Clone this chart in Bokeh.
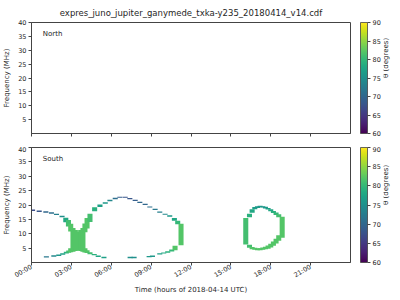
import numpy as np
from bokeh.plotting import figure
from bokeh.models import (LinearColorMapper, ColorBar, FixedTicker, Label,
                          ColumnDataSource, Range1d, LinearAxis)
from bokeh.palettes import Viridis256
from bokeh.layouts import column
from bokeh.embed import file_html
from bokeh.resources import INLINE

TITLE = "expres_juno_jupiter_ganymede_txka-y235_20180414_v14.cdf"
X_LABEL = "Time (hours of 2018-04-14 UTC)"
Y_LABEL = "Frequency (MHz)"
CB_LABEL = "θ (degrees)"

hour_ticks = [0, 3, 6, 9, 12, 15, 18, 21]
hour_labels = ["00:00", "03:00", "06:00", "09:00", "12:00", "15:00", "18:00", "21:00"]
freq_ticks = [5, 10, 15, 20, 25, 30, 35, 40]
theta_ticks = [60, 65, 70, 75, 80, 85, 90]

# South hemisphere emission cells (time in hours, frequency band in MHz, theta in degrees)
ub_t = [0.08, 0.58, 1.08, 1.50, 1.88, 2.30, 2.58, 2.78, 2.95, 3.12, 3.30, 3.50, 3.70, 3.87,
        4.02, 4.18, 4.40, 4.75, 5.15, 5.55, 5.90, 6.30, 6.65, 7.05, 7.40, 7.80, 8.15, 8.55,
        8.90, 9.30, 9.65, 10.05, 10.40, 10.75, 11.00, 11.25]
ub_lo = [17.9, 17.6, 17.3, 17.0, 16.5, 15.7, 14.0, 12.5, 10.8, 3.7, 4.0, 4.3, 4.0, 3.7,
         10.5, 11.8, 14.1, 17.8, 19.3, 20.4, 21.3, 22.0, 22.5, 22.5, 22.0, 21.4, 20.7, 20.0,
         19.1, 18.3, 17.3, 16.6, 15.9, 14.5, 13.3, 6.0]
ub_hi = [18.4, 18.1, 17.8, 17.5, 17.0, 16.3, 15.6, 14.8, 13.5, 12.0, 11.3, 10.7, 11.3, 12.0,
         13.6, 15.5, 17.0, 19.2, 20.2, 21.0, 21.8, 22.5, 22.9, 22.9, 22.4, 21.8, 21.1, 20.4,
         19.5, 18.7, 17.7, 17.0, 16.4, 15.5, 14.5, 13.5]
ub_theta = [67, 68, 70, 71, 73, 75, 78, 81, 82, 82, 82, 82, 82, 82,
            82, 82, 81, 79, 77, 76, 74, 71, 69, 68, 68, 69, 70, 70,
            71, 72, 73, 74, 76, 78, 80, 82]

lb_t = [1.12, 1.68, 2.05, 2.35, 2.62, 2.80, 2.95, 4.02, 4.18, 4.40, 4.72, 5.02, 5.45,
        7.42, 7.72, 8.85, 9.10, 9.65, 9.95, 10.25, 10.55, 10.80]
lb_lo = [1.7, 2.0, 2.3, 2.7, 3.1, 3.4, 3.6, 3.5, 3.3, 2.9, 2.5, 1.9, 1.5,
         1.5, 1.5, 1.8, 1.9, 2.8, 3.1, 3.4, 3.8, 4.3]
lb_hi = [2.2, 2.5, 2.8, 3.2, 3.7, 4.2, 5.0, 5.0, 4.3, 3.6, 3.0, 2.4, 2.0,
         2.0, 2.0, 2.3, 2.4, 3.2, 3.5, 3.9, 4.5, 5.8]
lb_theta = [72, 74, 76, 77, 79, 81, 82, 82, 82, 81, 79, 78, 77,
            75, 75, 76, 76, 77, 78, 79, 80, 82]

ov_arc_t = [16.40, 16.60, 16.80, 17.00, 17.20, 17.40, 17.60, 17.80, 18.00, 18.20, 18.40, 18.60]
ov_top_lo = [15.7, 17.3, 18.5, 19.0, 19.2, 19.1, 18.8, 18.4, 17.8, 17.2, 16.5, 15.7]
ov_top_hi = [17.0, 18.5, 19.3, 19.6, 19.7, 19.6, 19.4, 19.0, 18.5, 17.9, 17.4, 16.8]
ov_top_theta = [79, 78, 77, 76, 76, 76, 76, 77, 78, 79, 80, 81]
ov_bot_lo = [5.1, 4.6, 4.4, 4.3, 4.3, 4.4, 4.6, 4.8, 5.2, 5.8, 6.6, 7.6]
ov_bot_hi = [6.2, 5.4, 5.1, 5.0, 5.0, 5.2, 5.5, 5.9, 6.5, 7.3, 8.3, 9.5]
ov_bot_theta = [81, 82, 82, 82, 82, 82, 82, 82, 82, 82, 82, 82]
ov_wall_t = [16.12, 18.86]
ov_wall_lo = [6.3, 8.6]
ov_wall_hi = [15.5, 15.9]
ov_wall_theta = [81, 82]

CELL = 0.38  # time-bin width in hours

t_all = ub_t + lb_t + ov_arc_t + ov_arc_t + ov_wall_t
lo_all = ub_lo + lb_lo + ov_top_lo + ov_bot_lo + ov_wall_lo
hi_all = ub_hi + lb_hi + ov_top_hi + ov_bot_hi + ov_wall_hi
th_all = ub_theta + lb_theta + ov_top_theta + ov_bot_theta + ov_wall_theta
t_arr = np.array(t_all)
src = ColumnDataSource(dict(left=t_arr - CELL / 2, right=t_arr + CELL / 2,
                            bottom=lo_all, top=hi_all, theta=th_all))

mapper = LinearColorMapper(palette=Viridis256, low=60, high=90)
FONT = "DejaVu Sans"
TXT = "#262626"
AX = "#444444"


def make_fig(height, top, bottom, show_x):
    p = figure(width=400, height=height, output_backend="svg", toolbar_location=None,
               x_range=Range1d(0, 24), y_range=Range1d(0, 40),
               min_border_left=31, min_border_right=50, min_border_top=top,
               min_border_bottom=bottom)
    p.grid.visible = False
    p.outline_line_color = AX
    p.outline_line_width = 1
    p.xaxis.ticker = FixedTicker(ticks=hour_ticks)
    p.yaxis.ticker = FixedTicker(ticks=freq_ticks)
    p.xaxis.minor_tick_line_color = None
    p.yaxis.minor_tick_line_color = None
    for ax in (p.xaxis[0], p.yaxis[0]):
        ax.axis_line_color = AX
        ax.major_tick_line_color = AX
        ax.major_tick_in = 0
        ax.major_tick_out = 3
        ax.major_label_text_font = FONT
        ax.major_label_text_font_size = "6.5px"
        ax.major_label_text_color = TXT
        ax.major_label_standoff = 2
        ax.axis_label_text_font = FONT
        ax.axis_label_text_font_size = "7px"
        ax.axis_label_text_font_style = "normal"
        ax.axis_label_text_color = TXT
    p.yaxis.axis_label = Y_LABEL
    p.yaxis.axis_label_standoff = 4
    if show_x:
        p.xaxis.major_label_overrides = {t: l for t, l in zip(hour_ticks, hour_labels)}
        p.xaxis.major_label_orientation = np.pi / 6
        p.xaxis.major_label_standoff = 1
        p.xaxis.axis_label = X_LABEL
        p.xaxis.axis_label_standoff = 0
    else:
        p.xaxis.major_label_text_color = None
        p.xaxis.major_label_standoff = 0
    cb = ColorBar(color_mapper=mapper, ticker=FixedTicker(ticks=theta_ticks),
                  width=7, padding=0, margin=0, location=(10, 0),
                  major_tick_in=0, major_tick_out=3, major_tick_line_color=AX,
                  minor_tick_line_color=None,
                  major_label_text_font=FONT, major_label_text_font_size="6.5px",
                  major_label_text_color=TXT, label_standoff=2,
                  bar_line_color=AX, bar_line_width=0.8)
    p.add_layout(cb, "right")
    lab_ax = LinearAxis(ticker=FixedTicker(ticks=[]), axis_label=CB_LABEL,
                        axis_line_color=None, major_tick_line_color=None,
                        minor_tick_line_color=None, axis_label_standoff=2,
                        axis_label_text_font=FONT, axis_label_text_font_size="7px",
                        axis_label_text_font_style="normal", axis_label_text_color=TXT)
    try:
        lab_ax.axis_label_orientation = np.pi / 2
    except Exception:
        pass
    p.add_layout(lab_ax, "right")
    return p


top_fig = make_fig(146, 19, 13, False)
top_fig.title.text = TITLE
top_fig.title.align = "center"
top_fig.title.text_font = FONT
top_fig.title.text_font_size = "8.5px"
top_fig.title.text_font_style = "normal"
top_fig.title.text_color = TXT
top_fig.add_layout(Label(x=0.85, y=36, text="North", text_font=FONT, text_font_size="7px",
                         text_color=TXT, text_baseline="middle"))

bot_fig = make_fig(154, 1, 38, True)
bot_fig.quad(left="left", right="right", bottom="bottom", top="top", source=src,
             fill_color={"field": "theta", "transform": mapper}, line_color=None)
bot_fig.add_layout(Label(x=0.85, y=36, text="South", text_font=FONT, text_font_size="7px",
                         text_color=TXT, text_baseline="middle"))

layout = column(top_fig, bot_fig, spacing=0)
open("out.html", "w").write(file_html(layout, INLINE))
